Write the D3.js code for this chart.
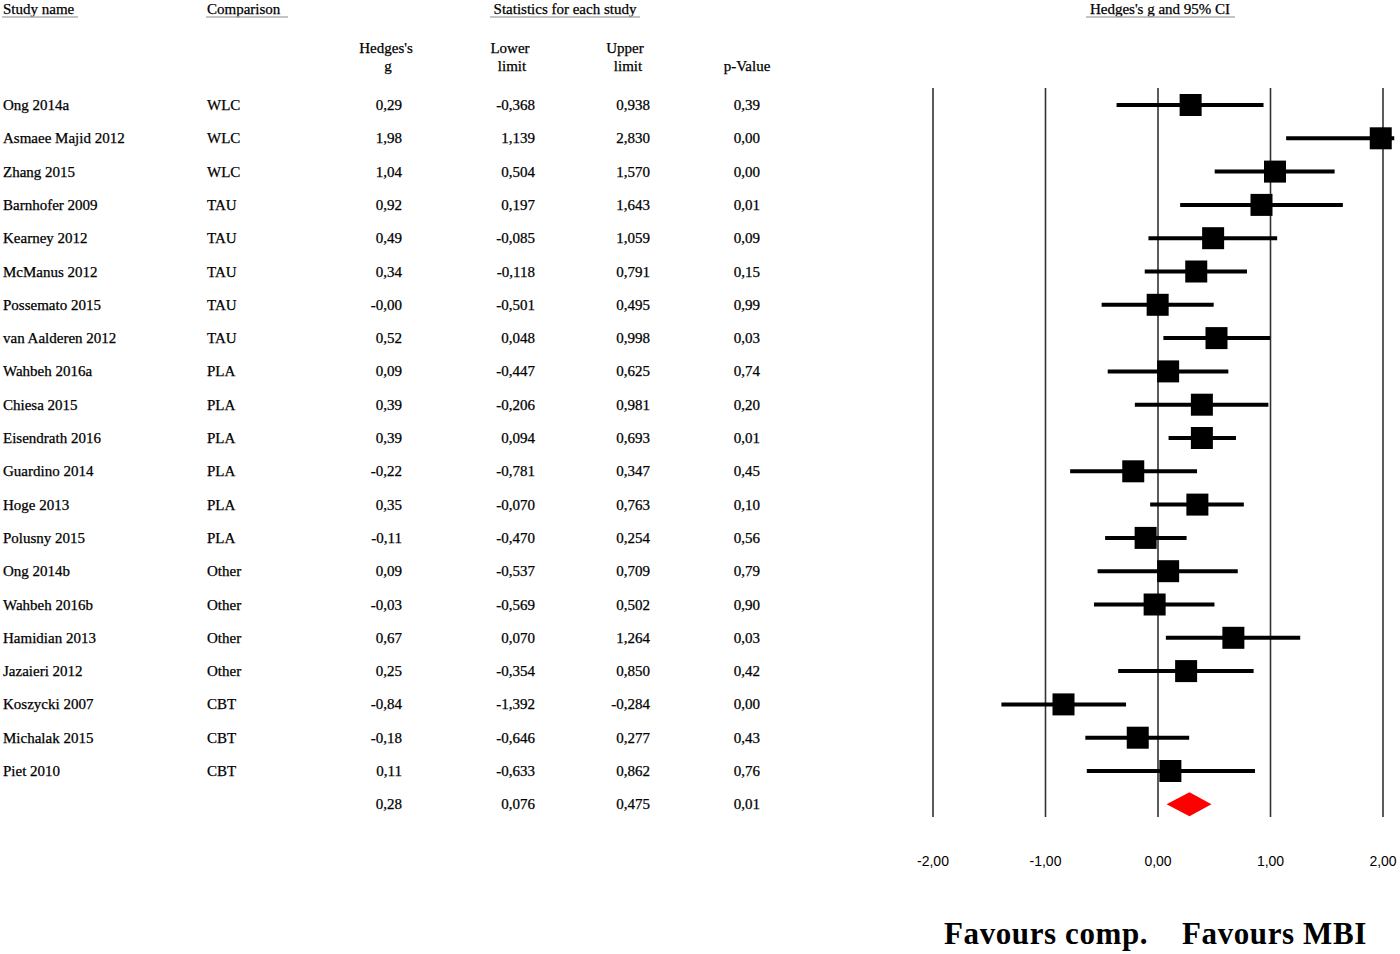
<html>
<head>
    <script src="https://d3js.org/d3.v7.min.js"></script>
    <style>
        body { margin: 0; background: #fff; }
        text { font-family: "Liberation Serif", "DejaVu Serif", serif; fill: #000; }
        .head { font-size: 15px; stroke: #000; stroke-width: 0.25px; }
        .cell { font-size: 15px; stroke: #000; stroke-width: 0.25px; }
        .rule { stroke: #b0b0b0; stroke-width: 1.5px; }
        .grid { stroke: #333; stroke-width: 1.6px; }
        .ci { stroke: #000; stroke-width: 4px; }
        .tick-label { font-size: 14px; font-family: "Liberation Sans", sans-serif; }
        .favour { font-size: 31px; font-weight: bold; letter-spacing: 0.6px; }
    </style>
</head>
<body>
    <svg id="forest" width="1400" height="954"></svg>

    <script>
        // study rows
        const studies = ["Ong 2014a", "Asmaee Majid 2012", "Zhang 2015", "Barnhofer 2009", "Kearney 2012",
            "McManus 2012", "Possemato 2015", "van Aalderen 2012", "Wahbeh 2016a", "Chiesa 2015",
            "Eisendrath 2016", "Guardino 2014", "Hoge 2013", "Polusny 2015", "Ong 2014b",
            "Wahbeh 2016b", "Hamidian 2013", "Jazaieri 2012", "Koszycki 2007", "Michalak 2015", "Piet 2010"];
        const comparisons = ["WLC", "WLC", "WLC", "TAU", "TAU", "TAU", "TAU", "TAU", "PLA", "PLA",
            "PLA", "PLA", "PLA", "PLA", "Other", "Other", "Other", "Other", "CBT", "CBT", "CBT"];
        const hedgesG = [0.29, 1.98, 1.04, 0.92, 0.49, 0.34, -0.003, 0.52, 0.09, 0.39,
            0.39, -0.22, 0.35, -0.11, 0.09, -0.03, 0.67, 0.25, -0.84, -0.18, 0.11];
        const lowerLimit = [-0.368, 1.139, 0.504, 0.197, -0.085, -0.118, -0.501, 0.048, -0.447, -0.206,
            0.094, -0.781, -0.070, -0.470, -0.537, -0.569, 0.070, -0.354, -1.392, -0.646, -0.633];
        const upperLimit = [0.938, 2.830, 1.570, 1.643, 1.059, 0.791, 0.495, 0.998, 0.625, 0.981,
            0.693, 0.347, 0.763, 0.254, 0.709, 0.502, 1.264, 0.850, -0.284, 0.277, 0.862];
        const pValues = [0.39, 0.00, 0.00, 0.01, 0.09, 0.15, 0.99, 0.03, 0.74, 0.20,
            0.01, 0.45, 0.10, 0.56, 0.79, 0.90, 0.03, 0.42, 0.00, 0.43, 0.76];

        // pooled estimate
        const pooled = { g: 0.28, lower: 0.076, upper: 0.475, p: 0.01 };

        const axisTicks = [-2, -1, 0, 1, 2];

        const svg = d3.select("#forest");

        // comma decimals, plain hyphen minus
        const fmt = (v, n) => (v < 0 ? "-" : "") + Math.abs(v).toFixed(n).replace(".", ",");

        const x = d3.scaleLinear().domain([-2, 2]).range([933, 1383]);
        const y = d3.scaleLinear().domain([0, studies.length]).range([105, 105 + studies.length * 33.3]);

        // --- headers
        const heads = [
            { t: "Study name", x: 3, y: 14, a: "start", line: [2, 78] },
            { t: "Comparison", x: 207, y: 14, a: "start", line: [206, 288] },
            { t: "Statistics for each study", x: 565, y: 14, a: "middle", line: [490, 640] },
            { t: "Hedges's g and 95% CI", x: 1160, y: 14, a: "middle", line: [1086, 1235] }
        ];
        svg.selectAll("text.top").data(heads).join("text")
            .attr("class", "head top")
            .attr("x", d => d.x).attr("y", d => d.y)
            .attr("text-anchor", d => d.a)
            .text(d => d.t);
        svg.selectAll("line.rule").data(heads).join("line")
            .attr("class", "rule")
            .attr("x1", d => d.line[0]).attr("x2", d => d.line[1])
            .attr("y1", 17).attr("y2", 17);

        const subHeads = [
            { t: "Hedges's", x: 386, y: 53 }, { t: "g", x: 388, y: 71 },
            { t: "Lower", x: 510, y: 53 }, { t: "limit", x: 512, y: 71 },
            { t: "Upper", x: 625, y: 53 }, { t: "limit", x: 628, y: 71 },
            { t: "p-Value", x: 747, y: 71 }
        ];
        svg.selectAll("text.sub").data(subHeads).join("text")
            .attr("class", "head sub")
            .attr("x", d => d.x).attr("y", d => d.y)
            .attr("text-anchor", "middle")
            .text(d => d.t);

        // --- table rows
        const rows = studies.map((s, i) => ({
            name: s, comp: comparisons[i], g: hedgesG[i], lo: lowerLimit[i], hi: upperLimit[i], p: pValues[i], i: i
        }));
        const allRows = rows.concat([{ name: "", comp: "", g: pooled.g, lo: pooled.lower, hi: pooled.upper, p: pooled.p, i: studies.length }]);

        const rowG = svg.selectAll("g.row").data(allRows).join("g")
            .attr("class", "row")
            .attr("transform", d => `translate(0, ${y(d.i) + 5})`);
        rowG.append("text").attr("class", "cell").attr("x", 3).text(d => d.name);
        rowG.append("text").attr("class", "cell").attr("x", 207).text(d => d.comp);
        rowG.append("text").attr("class", "cell").attr("x", 402).attr("text-anchor", "end").text(d => fmt(d.g, 2));
        rowG.append("text").attr("class", "cell").attr("x", 535).attr("text-anchor", "end").text(d => fmt(d.lo, 3));
        rowG.append("text").attr("class", "cell").attr("x", 650).attr("text-anchor", "end").text(d => fmt(d.hi, 3));
        rowG.append("text").attr("class", "cell").attr("x", 760).attr("text-anchor", "end").text(d => fmt(d.p, 2));

        // --- plot grid lines
        svg.selectAll("line.grid").data(axisTicks).join("line")
            .attr("class", "grid")
            .attr("x1", d => x(d)).attr("x2", d => x(d))
            .attr("y1", 88).attr("y2", 817);

        svg.selectAll("text.tick-label").data(axisTicks).join("text")
            .attr("class", "tick-label")
            .attr("x", d => x(d)).attr("y", 866)
            .attr("text-anchor", "middle")
            .text(d => fmt(d, 2));

        // --- CIs and squares
        const clipX = v => Math.max(-2.1, Math.min(2.1, v));
        svg.selectAll("line.ci").data(rows).join("line")
            .attr("class", "ci")
            .attr("x1", d => x(clipX(d.lo))).attr("x2", d => x(clipX(d.hi)))
            .attr("y1", d => y(d.i)).attr("y2", d => y(d.i));

        const sq = 22;
        svg.selectAll("rect.est").data(rows).join("rect")
            .attr("class", "est")
            .attr("x", d => x(d.g) - sq / 2).attr("y", d => y(d.i) - sq / 2)
            .attr("width", sq).attr("height", sq)
            .attr("fill", "#000");

        // pooled diamond
        const py = y(studies.length);
        svg.append("path")
            .attr("d", `M${x(pooled.lower)},${py} L${x(pooled.g)},${py - 12} L${x(pooled.upper)},${py} L${x(pooled.g)},${py + 12} Z`)
            .attr("fill", "#ff0000");

        // --- favours labels
        svg.append("text").attr("class", "favour").attr("x", 944).attr("y", 944).text("Favours comp.");
        svg.append("text").attr("class", "favour").attr("x", 1182).attr("y", 944).text("Favours MBI");
    </script>
</body>
</html>
